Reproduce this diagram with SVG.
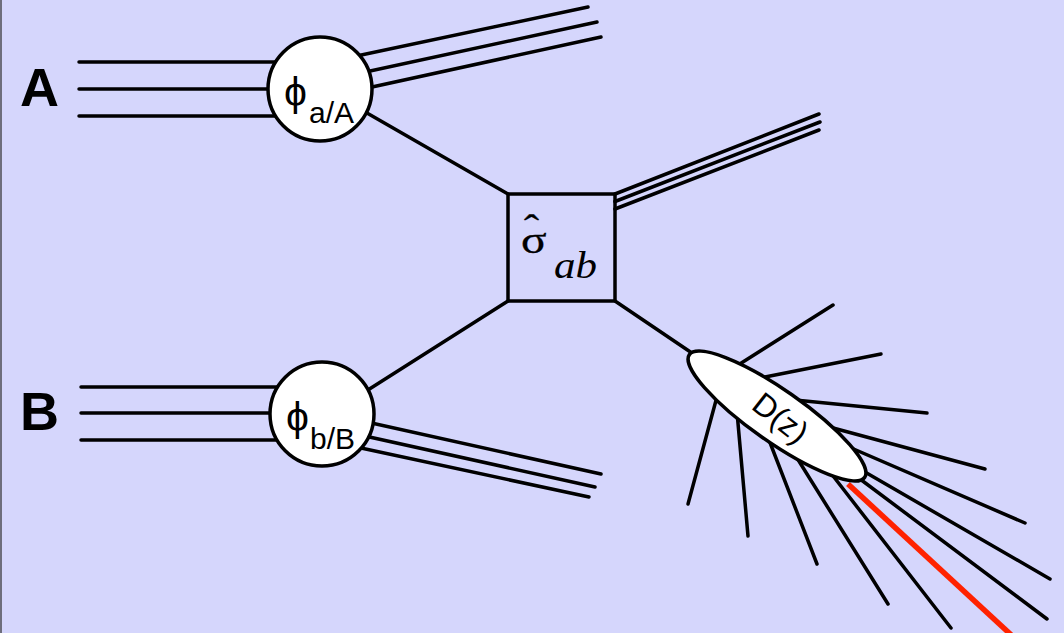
<svg xmlns="http://www.w3.org/2000/svg" width="1064" height="633" viewBox="0 0 1064 633">
  <style>
    .ln { stroke: #000; stroke-width: 3.5; stroke-linecap: round; fill: none; }
    .red { stroke: #ff2200; stroke-width: 5.5; stroke-linecap: butt; fill: none; }
    .blob { fill: #fff; stroke: #000; stroke-width: 3.5; }
    .box { fill: none; stroke: #000; stroke-width: 3.5; }
    .lbl { font-family: "Liberation Sans", Arial, sans-serif; font-weight: bold; font-size: 54px; fill: #000; }
    .phi { font-family: "Liberation Sans", "DejaVu Sans", sans-serif; font-size: 41px; fill: #000; }
    .sub { font-family: "Liberation Sans", Arial, sans-serif; font-size: 30px; fill: #000; }
    .serif { font-family: "Liberation Serif", "Times New Roman", serif; fill: #000; }
  </style>

  <!-- backdrop -->
  <rect x="0" y="0" width="1064" height="633" fill="#d5d6fc"/>
  <rect x="0" y="0" width="2" height="633" fill="#6e6e7c"/>

  <g id="connectors">
    <!-- hadron A lines -->
    <line class="ln" x1="79" y1="62" x2="300" y2="62"/>
    <line class="ln" x1="79" y1="89" x2="300" y2="89"/>
    <line class="ln" x1="79" y1="116" x2="300" y2="116"/>
    <!-- remnants of A -->
    <line class="ln" x1="340" y1="59.5" x2="588" y2="7"/>
    <line class="ln" x1="340" y1="77.5" x2="597" y2="22"/>
    <line class="ln" x1="340" y1="94" x2="601" y2="37"/>
    <!-- hadron B lines -->
    <line class="ln" x1="81" y1="387" x2="300" y2="387"/>
    <line class="ln" x1="81" y1="413" x2="300" y2="413"/>
    <line class="ln" x1="81" y1="440" x2="300" y2="440"/>
    <!-- remnants of B -->
    <line class="ln" x1="340" y1="416" x2="601" y2="474"/>
    <line class="ln" x1="340" y1="430.5" x2="595" y2="487"/>
    <line class="ln" x1="340" y1="443.5" x2="589" y2="497"/>
    <!-- partons into the hard scattering -->
    <line class="ln" x1="360" y1="109" x2="508" y2="194"/>
    <line class="ln" x1="360" y1="395" x2="508" y2="301"/>
    <!-- outgoing jet from the hard scattering -->
    <line class="ln" x1="615" y1="194" x2="819" y2="114"/>
    <line class="ln" x1="615" y1="201.5" x2="820" y2="122"/>
    <line class="ln" x1="615" y1="209" x2="819" y2="130"/>
    <!-- fragmenting parton -->
    <line class="ln" x1="615" y1="301" x2="720" y2="372"/>
    <!-- fragmentation products -->
    <line class="ln" x1="735" y1="367" x2="833" y2="305"/>
    <line class="ln" x1="765" y1="377" x2="881" y2="354"/>
    <line class="ln" x1="795" y1="400" x2="927" y2="413"/>
    <line class="ln" x1="822" y1="425" x2="985" y2="469"/>
    <line class="ln" x1="842" y1="444" x2="1025" y2="523"/>
    <line class="ln" x1="858" y1="468" x2="1050" y2="579"/>
    <line class="ln" x1="856" y1="476" x2="1047" y2="619"/>
    <line class="ln" x1="830" y1="472" x2="951" y2="628"/>
    <line class="ln" x1="797" y1="458" x2="888" y2="604"/>
    <line class="ln" x1="769" y1="440" x2="817" y2="564"/>
    <line class="ln" x1="737" y1="412" x2="748" y2="536"/>
    <line class="ln" x1="718" y1="393" x2="688" y2="504"/>
    <line class="red" x1="848" y1="484" x2="1021" y2="644"/>
  </g>

  <g id="pdf-a">
    <circle class="blob" cx="320" cy="89" r="52"/>
    <text class="phi" x="284" y="106">ϕ</text>
    <text class="sub" x="309" y="123">a/A</text>
  </g>

  <g id="pdf-b">
    <circle class="blob" cx="322" cy="414" r="52"/>
    <text class="phi" x="286" y="431">ϕ</text>
    <text class="sub" x="310" y="449">b/B</text>
  </g>

  <g id="label-a">
    <text class="lbl" x="20" y="106">A</text>
  </g>
  <g id="label-b">
    <text class="lbl" x="20" y="430">B</text>
  </g>

  <g id="hard-process">
    <rect class="box" x="508" y="194" width="107" height="107"/>
    <!-- sigma, widened, with its circumflex lifted above it -->
    <text class="serif" transform="translate(521 253) scale(1.25 1)" font-size="38" stroke="#000" stroke-width="0.3">σ<tspan dx="-18" dy="-13" font-size="36">ˆ</tspan></text>
    <text class="serif" x="554" y="278" font-size="38" font-style="italic" textLength="43" lengthAdjust="spacingAndGlyphs">ab</text>
  </g>

  <g id="fragmentation">
    <ellipse class="blob" cx="777" cy="416" rx="107" ry="26" transform="rotate(35 777 416)"/>
    <text x="779" y="420" font-family="Liberation Sans, Arial, sans-serif" font-size="32" text-anchor="middle" dominant-baseline="middle" transform="rotate(38 779 420)">D(z)</text>
  </g>
</svg>
